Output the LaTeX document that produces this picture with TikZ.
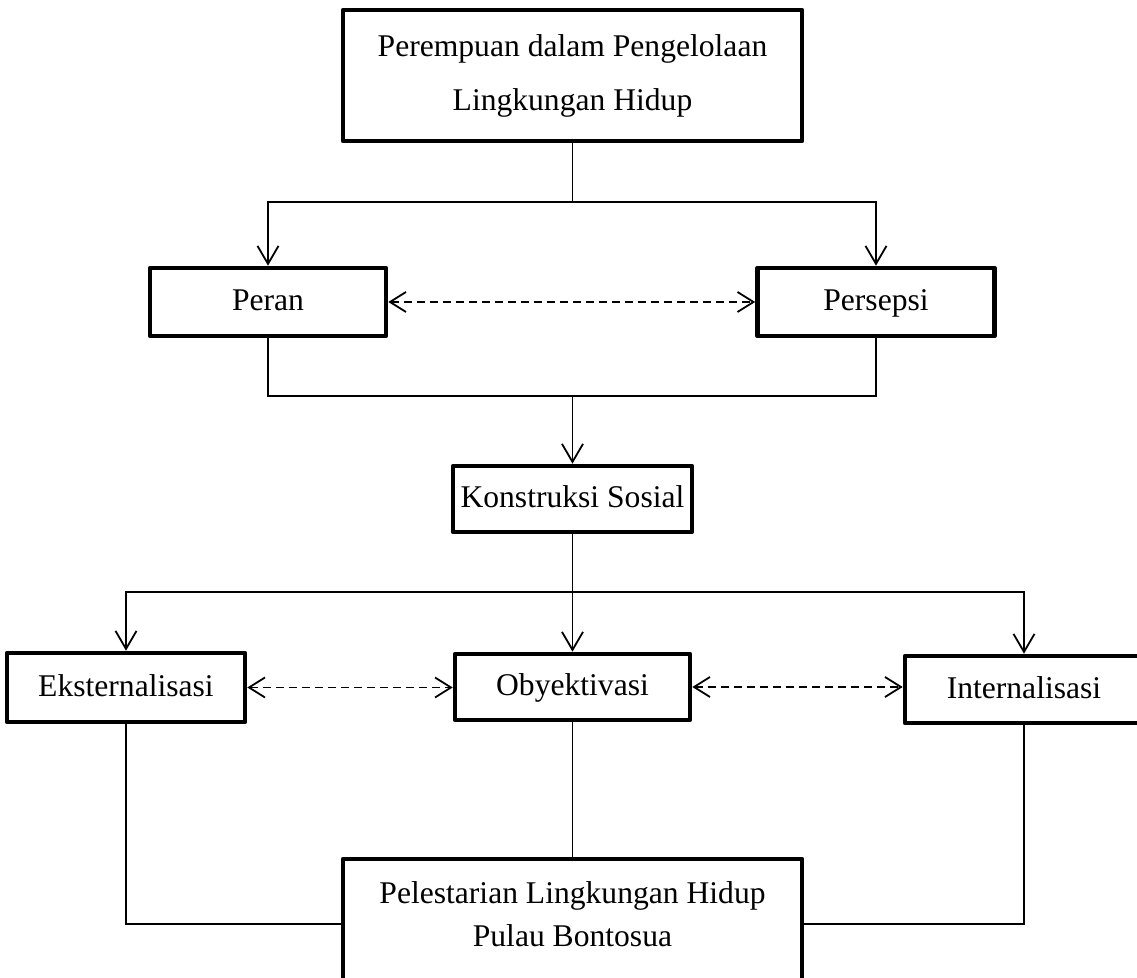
\documentclass[tikz,border=0pt]{standalone}
\usepackage{fontspec}
\setmainfont{Liberation Serif}
\usetikzlibrary{arrows.meta}
\begin{document}
\begin{tikzpicture}[x=0.5pt,y=-0.5pt,
  box/.style={draw,line width=2.3pt,inner sep=0pt,align=center,line join=round,
    font=\fontsize{15.8}{21.5}\selectfont},
  single/.style={box,text height=12pt,text depth=3pt},
  conn/.style={line width=0.9pt},
  arr/.style={conn,-{Straight Barb[length=9pt,width=10.5pt,line width=0.9pt]}},
  darr/.style={conn,dash pattern=on 4pt off 2.5pt,
    {Straight Barb[length=8pt,width=10pt,line width=0.9pt]}-{Straight Barb[length=8pt,width=10pt,line width=0.9pt]}}]
\useasboundingbox (0,0) rectangle (1137,978);
\clip (0,0) rectangle (1137,978);
\node[box,minimum width=229.5pt,minimum height=65.5pt,font=\fontsize{15.8}{27}\selectfont] (top) at (572.5,75.5) {Perempuan dalam Pengelolaan\\Lingkungan Hidup};
\node[single,minimum width=118pt,minimum height=34pt] (peran) at (268,302) {Peran};
\node[single,minimum width=118.5pt,minimum height=34pt] (pers) at (876,302) {Persepsi};
\node[single,minimum width=119.5pt,minimum height=33pt] (kons) at (572.5,499) {Konstruksi Sosial};
\node[single,minimum width=119pt,minimum height=34.5pt] (eks) at (126,687.5) {Eksternalisasi};
\node[single,minimum width=117.5pt,minimum height=33pt] (oby) at (572.5,687) {Obyektivasi};
\node[single,minimum width=119pt,minimum height=33.5pt] (int) at (1024,689.5) {Internalisasi};
\node[box,minimum width=229.5pt,minimum height=65pt] (bot) at (572.5,924) {Pelestarian Lingkungan Hidup\\Pulau Bontosua\rule[-10pt]{0pt}{10pt}};
\coordinate (j1) at (572.5,202);
\coordinate (j2) at (572.5,396);
\coordinate (j3) at (572.5,592);
\draw[conn] (top) -- (j1);
\draw[arr] (j1) -| (peran);
\draw[arr] (j1) -| (pers);
\draw[conn] (peran) |- (j2) -| (pers);
\draw[arr] (j2) -- (kons);
\draw[conn] (kons) -- (j3);
\draw[arr] (j3) -| (eks);
\draw[arr] (j3) -- (oby);
\draw[arr] (j3) -| (int);
\draw[darr] (peran.east) -- (pers.west);
\draw[darr] (eks.east) -- (eks.east -| oby.west);
\draw[darr] (oby.east) -- (oby.east -| int.west);
\draw[conn] (eks) |- (bot);
\draw[conn] (oby) -- (bot);
\draw[conn] (int) |- (bot);
\end{tikzpicture}
\end{document}
